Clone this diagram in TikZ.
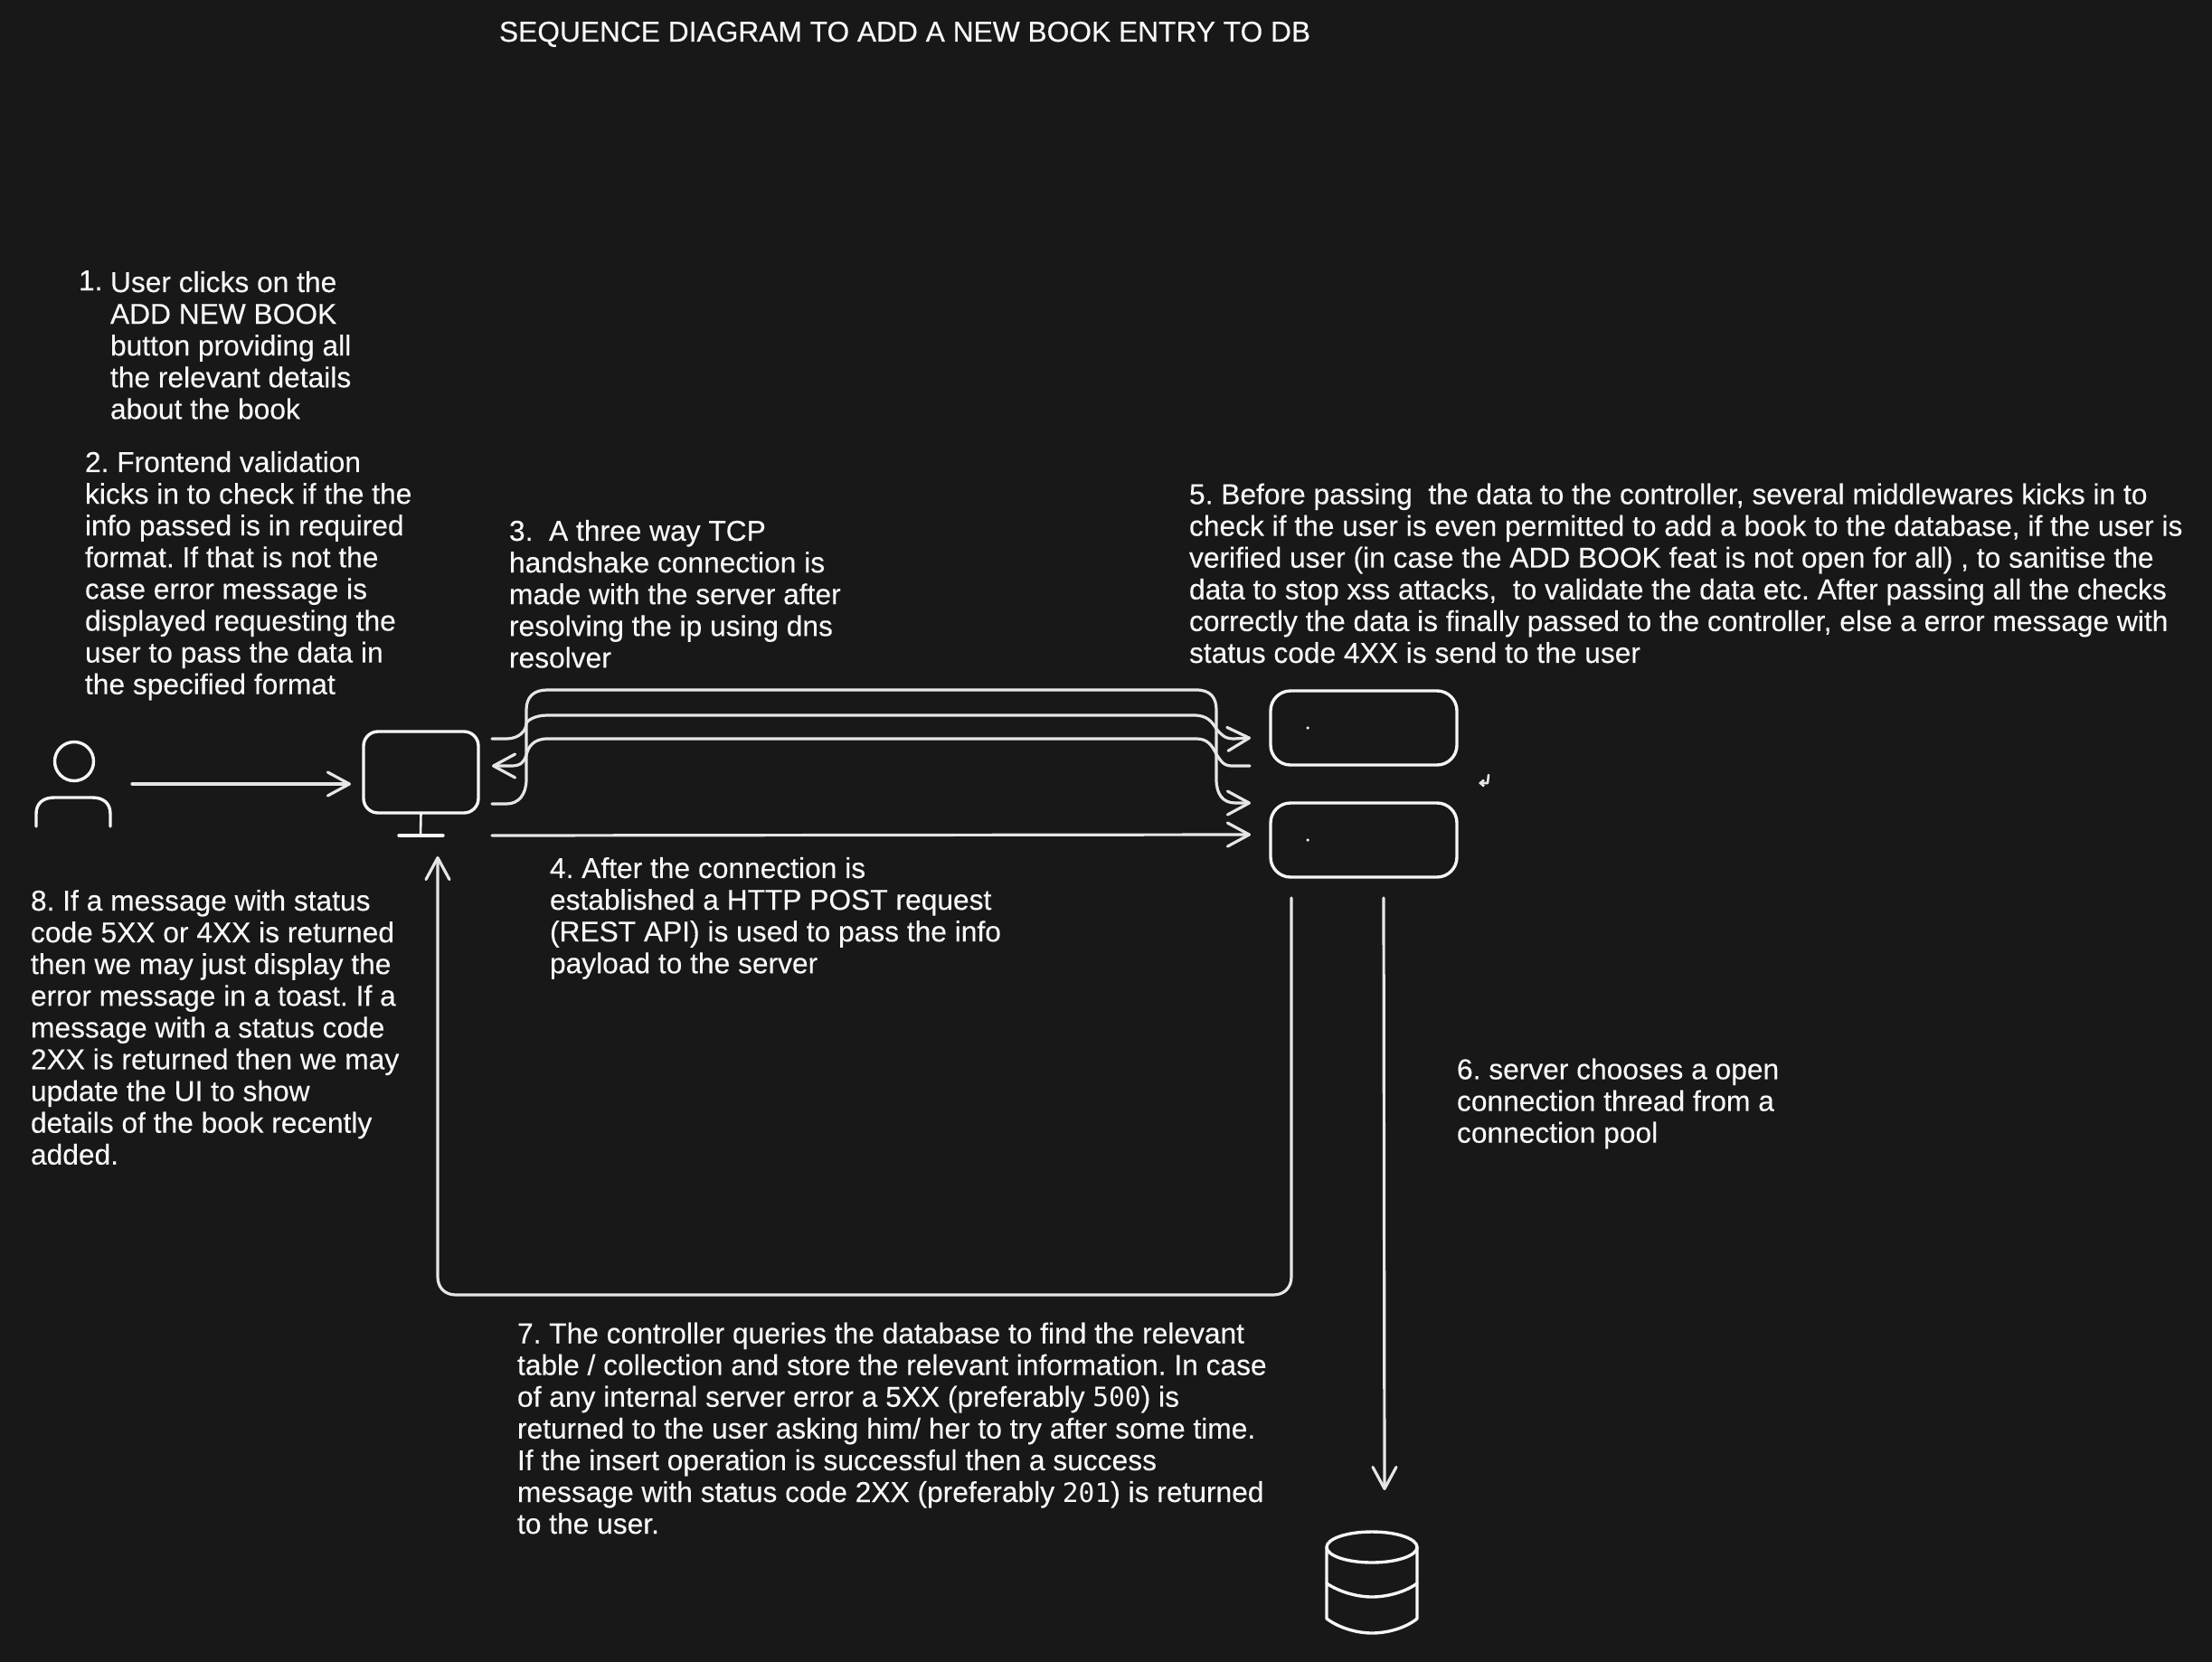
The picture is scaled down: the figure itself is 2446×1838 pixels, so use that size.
\documentclass[tikz,border=0pt]{standalone}
\usepackage{fontspec}
\setmainfont{Liberation Sans}[FakeBold=0.25]
\newfontfamily\slashfont{DejaVu Sans Mono}
\usetikzlibrary{arrows.meta,shapes.geometric}
\definecolor{bg}{HTML}{181818}
\definecolor{ink}{HTML}{E6E6E6}
\definecolor{boxink}{HTML}{F6F6F6}
\definecolor{txt}{HTML}{F8F8F8}
\newcommand{\slz}[1]{{\slashfont\fontsize{29.5}{35}\selectfont #1}}
\tikzset{
  x=1pt,y=-1pt,
  note/.style={anchor=north west,inner sep=0,outer sep=0,align=left,text=txt,
    font=\fontsize{31.72}{35.1}\selectfont\frenchspacing,execute at begin node={\rule{0pt}{25pt}}},
  wire/.style={draw=ink,line width=3.2pt,line cap=round,line join=round},
  tipped/.style={wire,-{Straight Barb[length=24pt,width=26pt,round]}},
  icon/.style={draw=boxink,line width=3.4pt,line cap=round,line join=round},
  boxnode/.style={icon,rectangle,rounded corners=#1,inner sep=0,outer sep=0},
  dot/.style={circle,fill=white,inner sep=0,minimum size=3.5pt},
}
\begin{document}
\begin{tikzpicture}
\fill[bg] (0,0) rectangle (2446,1838);
\useasboundingbox (0,0) rectangle (2446,1838);
% texts
\node[note] (title) at (552,21) {SEQUENCE DIAGRAM TO ADD A NEW BOOK ENTRY TO DB};
\node[note] (n1num) at (87,296) {1.};
\node[note] (n1) at (122,300) {User clicks on the\\ADD NEW BOOK\\button providing all\\the relevant details\\about the book};
\node[note] (n2) at (94,499) {2. Frontend validation\\kicks in to check if the the\\info passed is in required\\format. If that is not the\\case error message is\\displayed requesting the\\user to pass the data in\\the specified format};
\node[note] (n3) at (563,575) {3.\ \ A three way TCP\\handshake connection is\\made with the server after\\resolving the ip using dns\\resolver};
\node[note] (n4) at (608,948) {4. After the connection is\\established a HTTP POST request\\(REST API) is used to pass the info\\payload to the server};
\node[note] (n5) at (1315,534.5) {5. Before passing\ \ the data to the controller, several middlewares kicks in to\\check if the user is even permitted to add a book to the database, if the user is\\verified user (in case the ADD BOOK feat is not open for all) , to sanitise the\\data to stop xss attacks,\ \ to validate the data etc. After passing all the checks\\correctly the data is finally passed to the controller, else a error message with\\status code 4XX is send to the user};
\node[note] (n6) at (1611,1170.5) {6. server chooses a open\\connection thread from a\\connection pool};
\node[note] (n7) at (572,1462.5) {7. The controller queries the database to find the relevant\\table / collection and store the relevant information. In case\\of any internal server error a 5XX (preferably \slz{500}) is\\returned to the user asking him/ her to try after some time.\\If the insert operation is successful then a success\\message with status code 2XX (preferably \slz{201}) is returned\\to the user.};
\node[note] (n8) at (34,984) {8. If a message with status\\code 5XX or 4XX is returned\\then we may just display the\\error message in a toast. If a\\message with a status code\\2XX is returned then we may\\update the UI to show\\details of the book recently\\added.};
% user
\node[icon,circle,inner sep=0,outer sep=0,minimum size=43pt] (userhead) at (82,842) {};
\coordinate (bodyl) at (40,914);
\coordinate (bodyr) at (122,914);
\draw[icon] (bodyl) -- (40,900) .. controls (40,888) and (48,882) .. (60,882) -- (102,882) .. controls (114,882) and (122,888) .. (122,900) -- (bodyr);
% monitor
\node[boxnode=16pt,minimum width=127pt,minimum height=90pt] (monitor) at (465.5,854) {};
\coordinate (base) at (465,924);
\coordinate (basel) at (441,924);
\coordinate (baser) at (490,924);
\draw[icon,line width=2.6pt] (monitor.south) -- (base);
\draw[icon] (basel) -- (baser);
% servers
\node[boxnode=22pt,minimum width=206pt,minimum height=82pt] (s1) at (1508,805) {};
\node[boxnode=22pt,minimum width=206pt,minimum height=82pt] (s2) at (1508,929) {};
\node[dot] (d1) at (1446,805) {};
\node[dot] (d2) at (1446,929) {};
% db
\node[icon,ellipse,inner sep=0,outer sep=0,minimum width=100pt,minimum height=34pt] (dbtop) at (1517,1711) {};
\draw[icon] (dbtop.west) -- (1467,1790) .. controls (1480,1800) and (1500,1806) .. (1517,1806) .. controls (1535,1806) and (1555,1800) .. (1567,1790) -- (dbtop.east);
\draw[icon] (1467,1751) .. controls (1480,1760) and (1500,1766) .. (1517,1766) .. controls (1535,1766) and (1555,1760) .. (1567,1751);
% small return glyph
\draw[wire,line width=2.6pt,-{Straight Barb[length=4pt,width=7pt]}] (1646,857) -- (1645,866) -- (1635,866);
% connectors
\coordinate (uout) at (146,867);
\coordinate (min) at (388,867);
\draw[tipped] (uout) -- (min);
\coordinate (a0) at (544,889);
\coordinate (a1) at (1383,888);
\draw[tipped] (a0) -- (560,889) .. controls (574,889) and (582,878) .. (582,862) -- (582,785) .. controls (582,771) and (590,763) .. (605,763) -- (1323,763) .. controls (1338,763) and (1345,771) .. (1345,785) -- (1345,862) .. controls (1345,878) and (1352,888) .. (1366,888) -- (a1);
\coordinate (b0) at (544,817);
\coordinate (b1) at (1383,816);
\draw[tipped] (b0) -- (560,817) .. controls (574,817) and (582,808) .. (582,800) .. controls (582,798) and (590,791) .. (605,791) -- (1320,791) .. controls (1335,791) and (1340,798) .. (1345,806) .. controls (1350,812) and (1354,817) .. (1364,817) -- (b1);
\coordinate (c0) at (1382,847);
\coordinate (c1) at (544,847);
\draw[tipped] (c0) -- (1362,847) .. controls (1352,847) and (1349,840) .. (1345,834) .. controls (1340,824) and (1335,817) .. (1323,817) -- (605,817) .. controls (590,817) and (584,826) .. (582,835) .. controls (580,842) and (576,847) .. (566,847) -- (c1);
\coordinate (f0) at (544,924);
\coordinate (f1) at (1383,923);
\draw[tipped] (f0) -- (f1);
\coordinate (r0) at (1428,993);
\coordinate (r1) at (484,947);
\draw[tipped] (r0) -- (1428,1412) .. controls (1428,1424) and (1420,1432) .. (1408,1432) -- (504,1432) .. controls (492,1432) and (484,1424) .. (484,1412) -- (r1);
\coordinate (q0) at (1530,993);
\coordinate (q1) at (1531,1648);
\draw[tipped] (q0) -- (q1);
\end{tikzpicture}
\end{document}
